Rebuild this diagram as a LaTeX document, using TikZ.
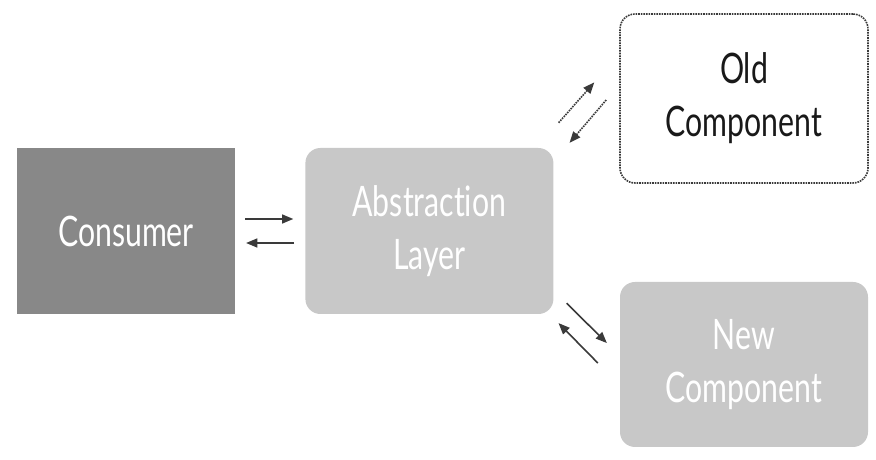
\documentclass[tikz,border=0pt]{standalone}
\usepackage{fontspec}
\setmainfont[FakeStretch=0.72, Ligatures={NoCommon, NoRare}]{Lato}
\usetikzlibrary{arrows,positioning,calc}
\definecolor{darkbox}{HTML}{888888}
\definecolor{lightbox}{HTML}{C8C8C8}
\definecolor{arrowgray}{HTML}{3A3A3A}
\tikzset{%
    block/.style    = {rectangle, minimum width = 218pt, minimum height = 166pt,
        inner sep = 0pt, align = center, text = white,
        font = \fontsize{42}{53}\selectfont},
    layer/.style    = {block, fill = lightbox, rounded corners = 15pt,
        minimum width = 248pt},
    oldblock/.style = {layer, fill = white, text = black!90, draw = arrowgray,
        densely dotted, line width = 1.6pt},
    link/.style     = {draw = arrowgray, line width = 1.6pt, ->},
}

\begin{document}
\begin{tikzpicture}[x=1pt, y=1pt, >=triangle 45]
    \useasboundingbox (0,0) rectangle (876,460);
    % the blocks
    \node [block, fill = darkbox] (consumer) at (126,229) {Consumer};
    \node [layer, right = 70pt of consumer] (abstr) {Abstraction\\Layer};
    \node [oldblock, minimum height = 169pt] (old) at (744,361.5) {Old\\Component};
    \node [layer, minimum height = 165pt] (new) at (744,95.5) {New\\Component};

    % consumer <-> abstraction layer
    \draw [link] ([xshift = 10pt, yshift = 12pt]consumer.east) -- ([xshift = -12pt, yshift = 12pt]abstr.west);
    \draw [link] ([xshift = -11pt, yshift = -12pt]abstr.west) -- ([xshift = 11pt, yshift = -12pt]consumer.east);

    % abstraction layer <-> old component
    \draw [link, densely dotted] ([xshift = 5pt, yshift = 25pt]abstr.north east) -- ([xshift = -25pt, yshift = 16pt]old.west);
    \draw [link, densely dotted] ([xshift = -13pt, yshift = -1.5pt]old.west) -- ([xshift = 16pt, yshift = 5pt]abstr.north east);

    % abstraction layer <-> new component
    \draw [link] ([xshift = 13pt, yshift = 11pt]abstr.south east) -- ([xshift = -13pt, yshift = 21.5pt]new.west);
    \draw [link] ([xshift = -22pt, yshift = 1.5pt]new.west) -- ([xshift = 5pt, yshift = -9pt]abstr.south east);
\end{tikzpicture}
\end{document}
